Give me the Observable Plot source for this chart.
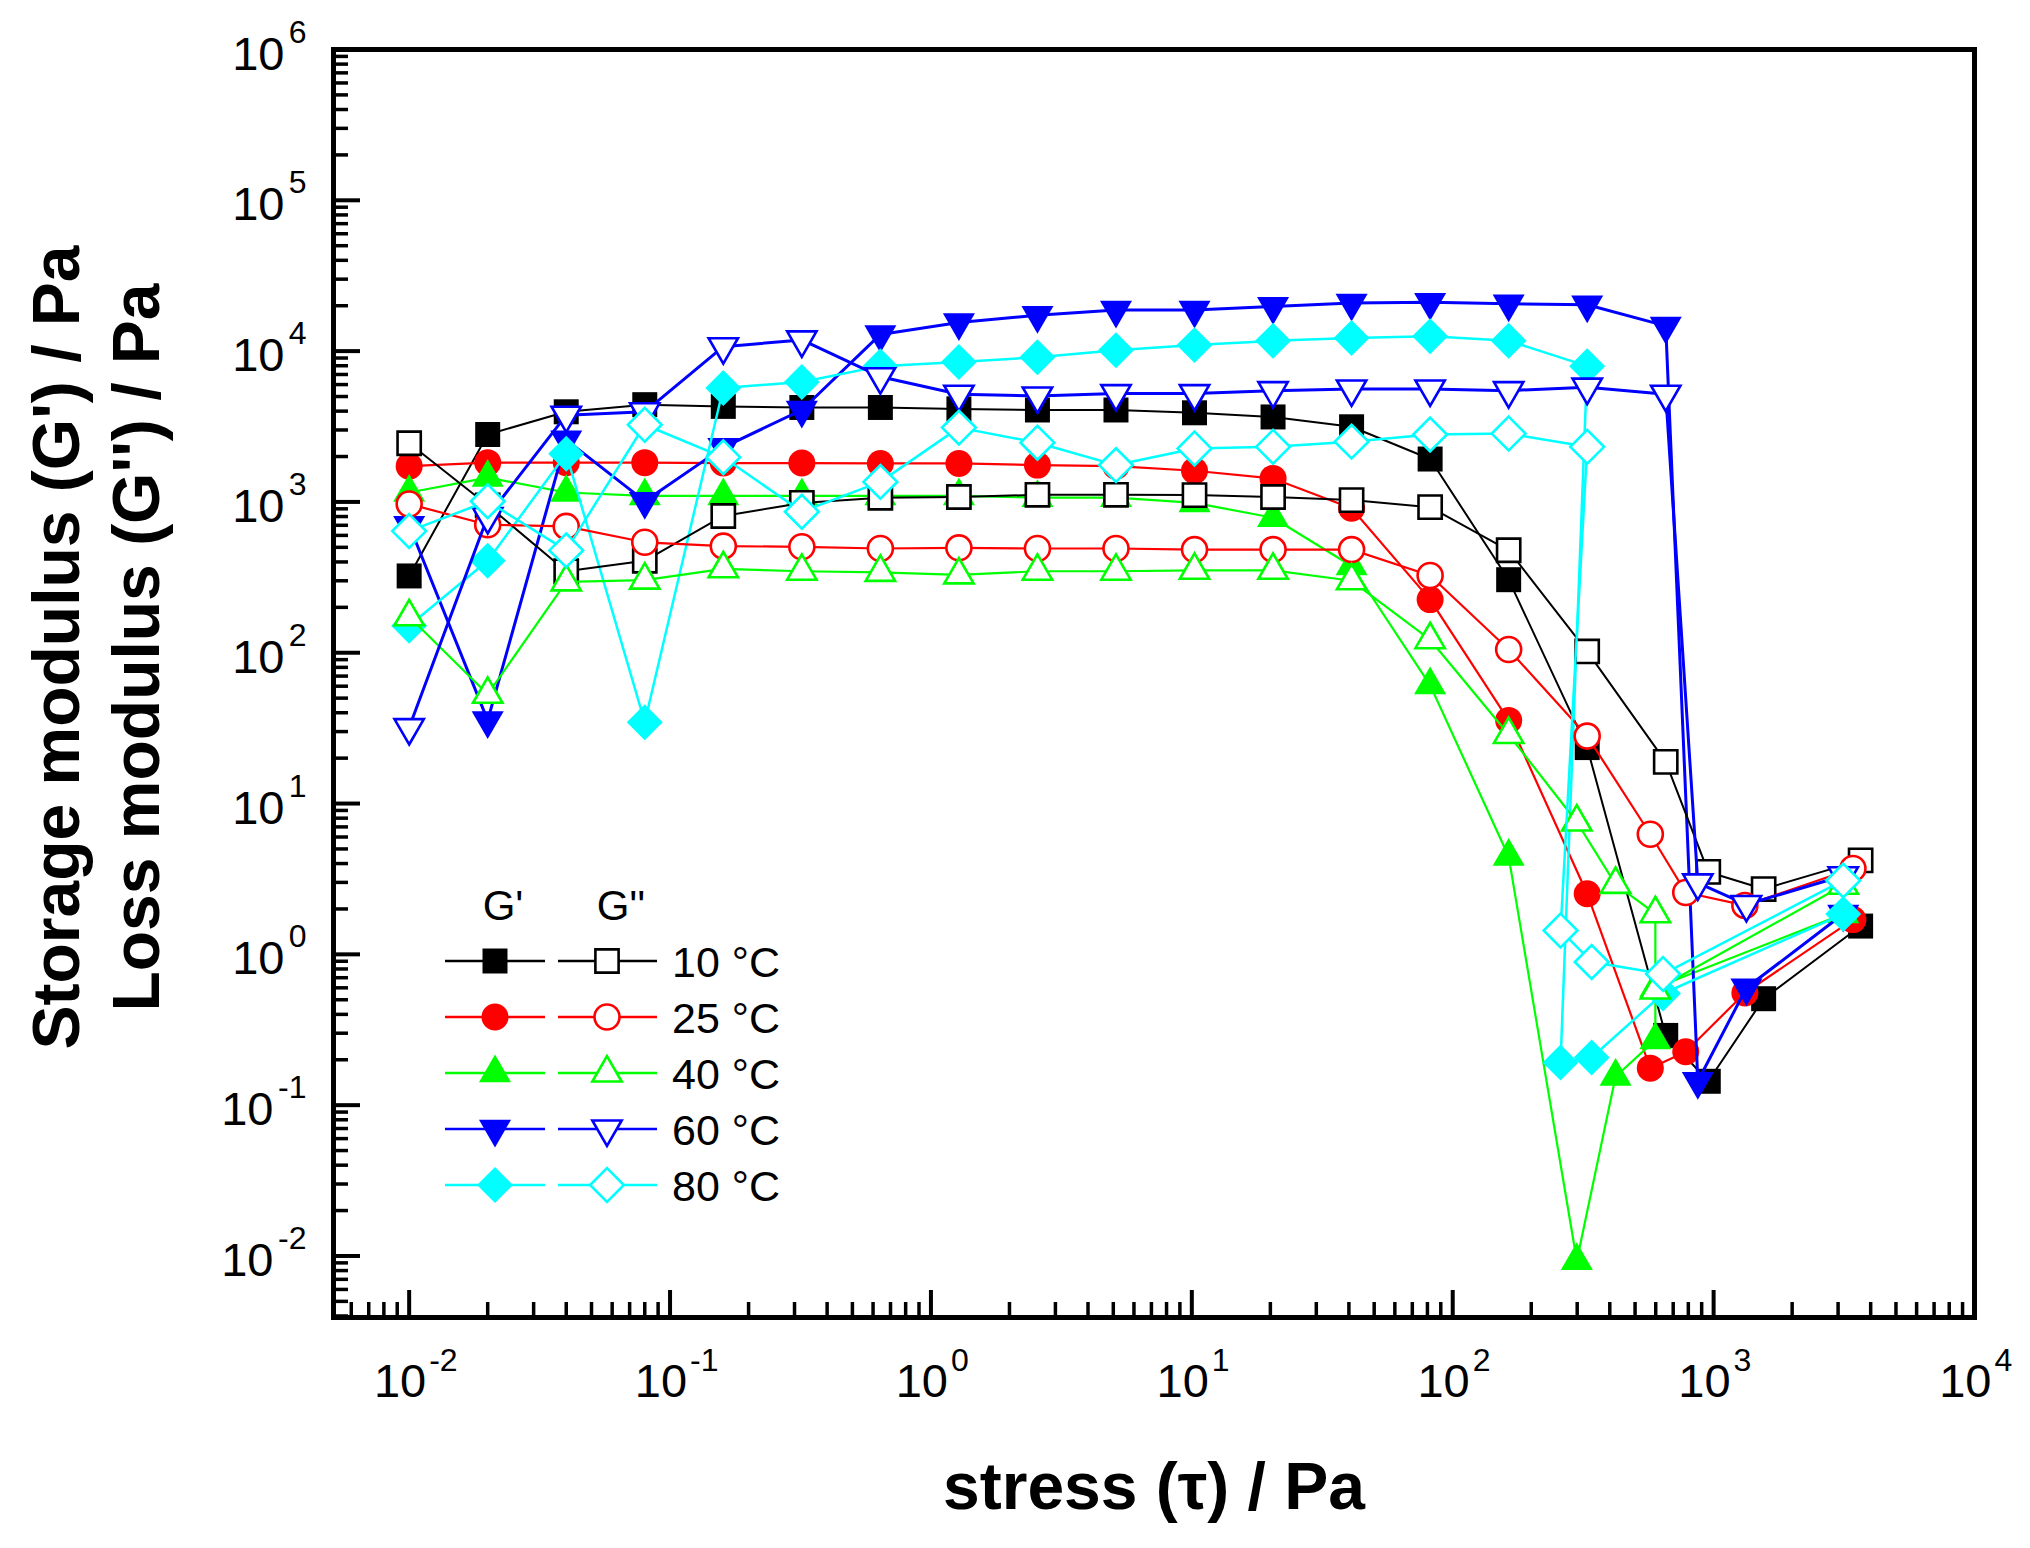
<!DOCTYPE html>
<html>
<head>
<meta charset="utf-8">
<script src="https://cdn.jsdelivr.net/npm/d3@7"></script>
<script src="https://cdn.jsdelivr.net/npm/@observablehq/plot@0.6"></script>
<style>
  body { margin: 0; background: #fff; }
  #chart { position: relative; width: 2030px; height: 1548px; }
  #legend { position: absolute; left: 0; top: 0; pointer-events: none; }
</style>
</head>
<body>
<div id="chart"></div>
<script>
// stress sweep (Pa), shared first part of every run
const stress = [0.01, 0.02, 0.04, 0.08, 0.16, 0.32, 0.64, 1.28, 2.56, 5.12, 10.24, 20.48, 40.96, 81.92, 163.84, 327.68];

const x10 = stress.concat([655.36, 954, 1555, 3660]);
const gp10 = [323, 2800, 3960, 4415, 4300, 4230, 4230, 4140, 4070, 4070, 3900, 3660, 3150, 1925, 305, 23.5, 0.29, 0.144, 0.508, 1.54];
const gpp10 = [2450, 950, 347, 407, 807, 985, 1066, 1078, 1115, 1115, 1110, 1078, 1028, 923, 478, 102, 18.9, 3.52, 2.71, 4.2];

const x25 = stress.concat([572, 782, 1318, 3420]);
const gp25 = [1727, 1822, 1822, 1822, 1810, 1810, 1800, 1800, 1755, 1727, 1610, 1432, 908, 225, 35.6, 2.52, 0.176, 0.226, 0.554, 1.70];
const gpp25 = [968, 706, 688, 540, 509, 504, 491, 496, 491, 491, 483, 483, 483, 325, 105, 28, 6.26, 2.57, 2.11, 3.71];

const x40 = stress.slice(0, 15).concat([299, 421, 598, 598, 3140]);
const gp40 = [1155, 1450, 1155, 1096, 1096, 1096, 1096, 1096, 1067, 1067, 985, 786, 376, 61, 4.45, 0.0093, 0.155, 0.27, 0.6, 1.85];
const gpp40 = [173, 53, 295, 303, 360, 347, 341, 328, 347, 347, 352, 352, 300, 122, 28.7, 7.54, 2.91, 1.86, 0.58, 2.87];

const x60 = stress.concat([655.36, 870, 1336, 3140]);
const gp60 = [700, 35.6, 2580, 1012, 2300, 4070, 12900, 15500, 17300, 18750, 18750, 19800, 20850, 21100, 20600, 20300, 14700, 0.144, 0.60, 1.85];
const gpp60 = [31.9, 800, 3760, 3960, 10700, 11870, 6770, 5180, 5040, 5230, 5230, 5470, 5610, 5610, 5470, 5770, 5180, 2.98, 2.14, 3.32];

const x80 = stress.concat([259, 341, 640, 3140]);
const gp80 = [151, 407, 2085, 34.6, 5700, 6250, 7950, 8470, 9100, 10120, 10960, 11700, 12200, 12530, 11700, 7950, 0.192, 0.207, 0.55, 1.85];
const gpp80 = [641, 1010, 477, 3250, 1977, 861, 1358, 3110, 2470, 1755, 2260, 2320, 2510, 2800, 2840, 2320, 1.44, 0.89, 0.74, 3.09];

const temps = ["10 °C", "25 °C", "40 °C", "60 °C", "80 °C"];
const xExp = [-2, -1, 0, 1, 2, 3, 4];
const yExp = [-2, -1, 0, 1, 2, 3, 4, 5, 6];

// styles
const colors = ["#000000", "#ff0000", "#00ff00", "#0000ff", "#00ffff"];
const lineW = [2, 2.2, 2.2, 3, 2.5];

const triangleDown = {
  draw(context, size) {
    const y = Math.sqrt(size / (Math.sqrt(3) * 3));
    context.moveTo(0, 2 * y);
    context.lineTo(Math.sqrt(3) * y, -y);
    context.lineTo(-Math.sqrt(3) * y, -y);
    context.closePath();
  }
};
const symbols = ["square", "circle", "triangle", triangleDown, "diamond2"];
const radii = [14.1, 13.5, 11.9, 11.9, 16.2];

const runs = [
  [x10, gp10, gpp10], [x25, gp25, gpp25], [x40, gp40, gpp40], [x60, gp60, gpp60], [x80, gp80, gpp80]
];
const rows = (xs, ys) => ys.map((v, i) => ({x: xs[i], y: v}));

const W = 2030, H = 1548;
const mL = 333, mR = 56, mT = 49, mB = 231;
const frameW = W - mL - mR, frameH = H - mT - mB;

const xDomain = [10 ** -2.29, 1e4];
const yDomain = [10 ** -2.408, 1e6];
const minors = (lo, hi) => {
  const out = [];
  for (let e = -4; e <= 6; e++) for (let k = 2; k <= 9; k++) {
    const v = k * 10 ** e;
    if (v > lo && v < hi) out.push(v);
  }
  return out;
};
const xMinor = minors(...xDomain);
const yMinor = minors(...yDomain);

const seriesMarks = [];
// G' first, then G''
for (const kind of [1, 2]) {
  runs.forEach(([xs, gp, gpp], i) => {
    const data = rows(xs, kind === 1 ? gp : gpp);
    seriesMarks.push(Plot.line(data, {x: "x", y: "y", stroke: colors[i], strokeWidth: lineW[i]}));
    seriesMarks.push(Plot.dot(data, {
      x: "x", y: "y", symbol: symbols[i],
      r: kind === 1 ? radii[i] : radii[i] - 1,
      fill: kind === 1 ? colors[i] : "white",
      stroke: kind === 1 ? "none" : colors[i],
      strokeWidth: 2.6
    }));
  });
}

const chart = Plot.plot({
  width: W,
  height: H,
  marginLeft: mL,
  marginRight: mR,
  marginTop: mT,
  marginBottom: mB,
  style: {fontFamily: "'Liberation Sans', Arial, sans-serif", background: "white", color: "black"},
  x: {type: "log", domain: xDomain, axis: null},
  y: {type: "log", domain: yDomain, axis: null},
  marks: [
    // inward ticks
    Plot.tickX(xExp, {x: d => 10 ** d, insetTop: frameH - 27, stroke: "black", strokeWidth: 4}),
    Plot.tickX(xMinor, {x: d => d, insetTop: frameH - 15, stroke: "black", strokeWidth: 3.5}),
    Plot.tickY(yExp, {y: d => 10 ** d, insetRight: frameW - 27, stroke: "black", strokeWidth: 4}),
    Plot.tickY(yMinor, {y: d => d, insetRight: frameW - 15, stroke: "black", strokeWidth: 3.5}),
    ...seriesMarks,
    Plot.frame({stroke: "black", strokeWidth: 5}),
    // x tick labels
    Plot.text(xExp, {x: d => 10 ** d, frameAnchor: "bottom", text: () => "10", textAnchor: "end", lineAnchor: "bottom", dx: 17, dy: 79, fontSize: 47}),
    Plot.text(xExp, {x: d => 10 ** d, frameAnchor: "bottom", text: d => String(d), textAnchor: "start", lineAnchor: "bottom", dx: 20, dy: 53, fontSize: 32}),
    // y tick labels
    Plot.text(yExp, {y: d => 10 ** d, frameAnchor: "left", text: () => "10", textAnchor: "end", lineAnchor: "bottom", dx: -49, dy: 20, fontSize: 47, filter: d => d >= 0}),
    Plot.text(yExp, {y: d => 10 ** d, frameAnchor: "left", text: () => "10", textAnchor: "end", lineAnchor: "bottom", dx: -60, dy: 20, fontSize: 47, filter: d => d < 0}),
    Plot.text(yExp, {y: d => 10 ** d, frameAnchor: "left", text: d => String(d), textAnchor: "end", lineAnchor: "bottom", dx: -27, dy: -7, fontSize: 32}),
    // axis titles
    Plot.text(["stress (τ) / Pa"], {frameAnchor: "bottom", text: d => d, textAnchor: "middle", lineAnchor: "bottom", dy: 191, fontSize: 66, fontWeight: "bold"}),
    Plot.text(["Storage modulus (G') / Pa"], {frameAnchor: "left", text: d => d, textAnchor: "middle", rotate: -90, lineAnchor: "bottom", dx: -255, dy: -36, fontSize: 66, fontWeight: "bold"}),
    Plot.text(["Loss modulus (G'') / Pa"], {frameAnchor: "left", text: d => d, textAnchor: "middle", rotate: -90, lineAnchor: "bottom", dx: -175, dy: -36, fontSize: 66, fontWeight: "bold"})
  ]
});

d3.select("#chart").append(() => chart);

// legend drawn inside the plot area
const legend = d3.select("#chart").append("svg")
  .attr("id", "legend")
  .attr("width", W)
  .attr("height", H)
  .style("font-family", "'Liberation Sans', Arial, sans-serif");

legend.append("text").attr("x", 503).attr("y", 920).attr("text-anchor", "middle").attr("font-size", 42).text("G'");
legend.append("text").attr("x", 621).attr("y", 920).attr("text-anchor", "middle").attr("font-size", 42).text("G''");

const d3types = {square: d3.symbolSquare, circle: d3.symbolCircle, triangle: d3.symbolTriangle, diamond2: d3.symbolDiamond2};
temps.forEach((t, i) => {
  const cy = 961 + 56 * i;
  const g = legend.append("g");
  const type = typeof symbols[i] === "string" ? d3types[symbols[i]] : symbols[i];
  g.append("line").attr("x1", 445).attr("x2", 545).attr("y1", cy).attr("y2", cy).attr("stroke", colors[i]).attr("stroke-width", 2.5);
  g.append("line").attr("x1", 558).attr("x2", 657).attr("y1", cy).attr("y2", cy).attr("stroke", colors[i]).attr("stroke-width", 2.5);
  g.append("path").attr("transform", `translate(495,${cy})`)
    .attr("d", d3.symbol(type, Math.PI * radii[i] ** 2)())
    .attr("fill", colors[i]);
  g.append("path").attr("transform", `translate(607,${cy})`)
    .attr("d", d3.symbol(type, Math.PI * (radii[i] - 1) ** 2)())
    .attr("fill", "white").attr("stroke", colors[i]).attr("stroke-width", 2.6);
  g.append("text").attr("x", 672).attr("y", cy + 16).attr("font-size", 43).text(t);
});
</script>
</body>
</html>
